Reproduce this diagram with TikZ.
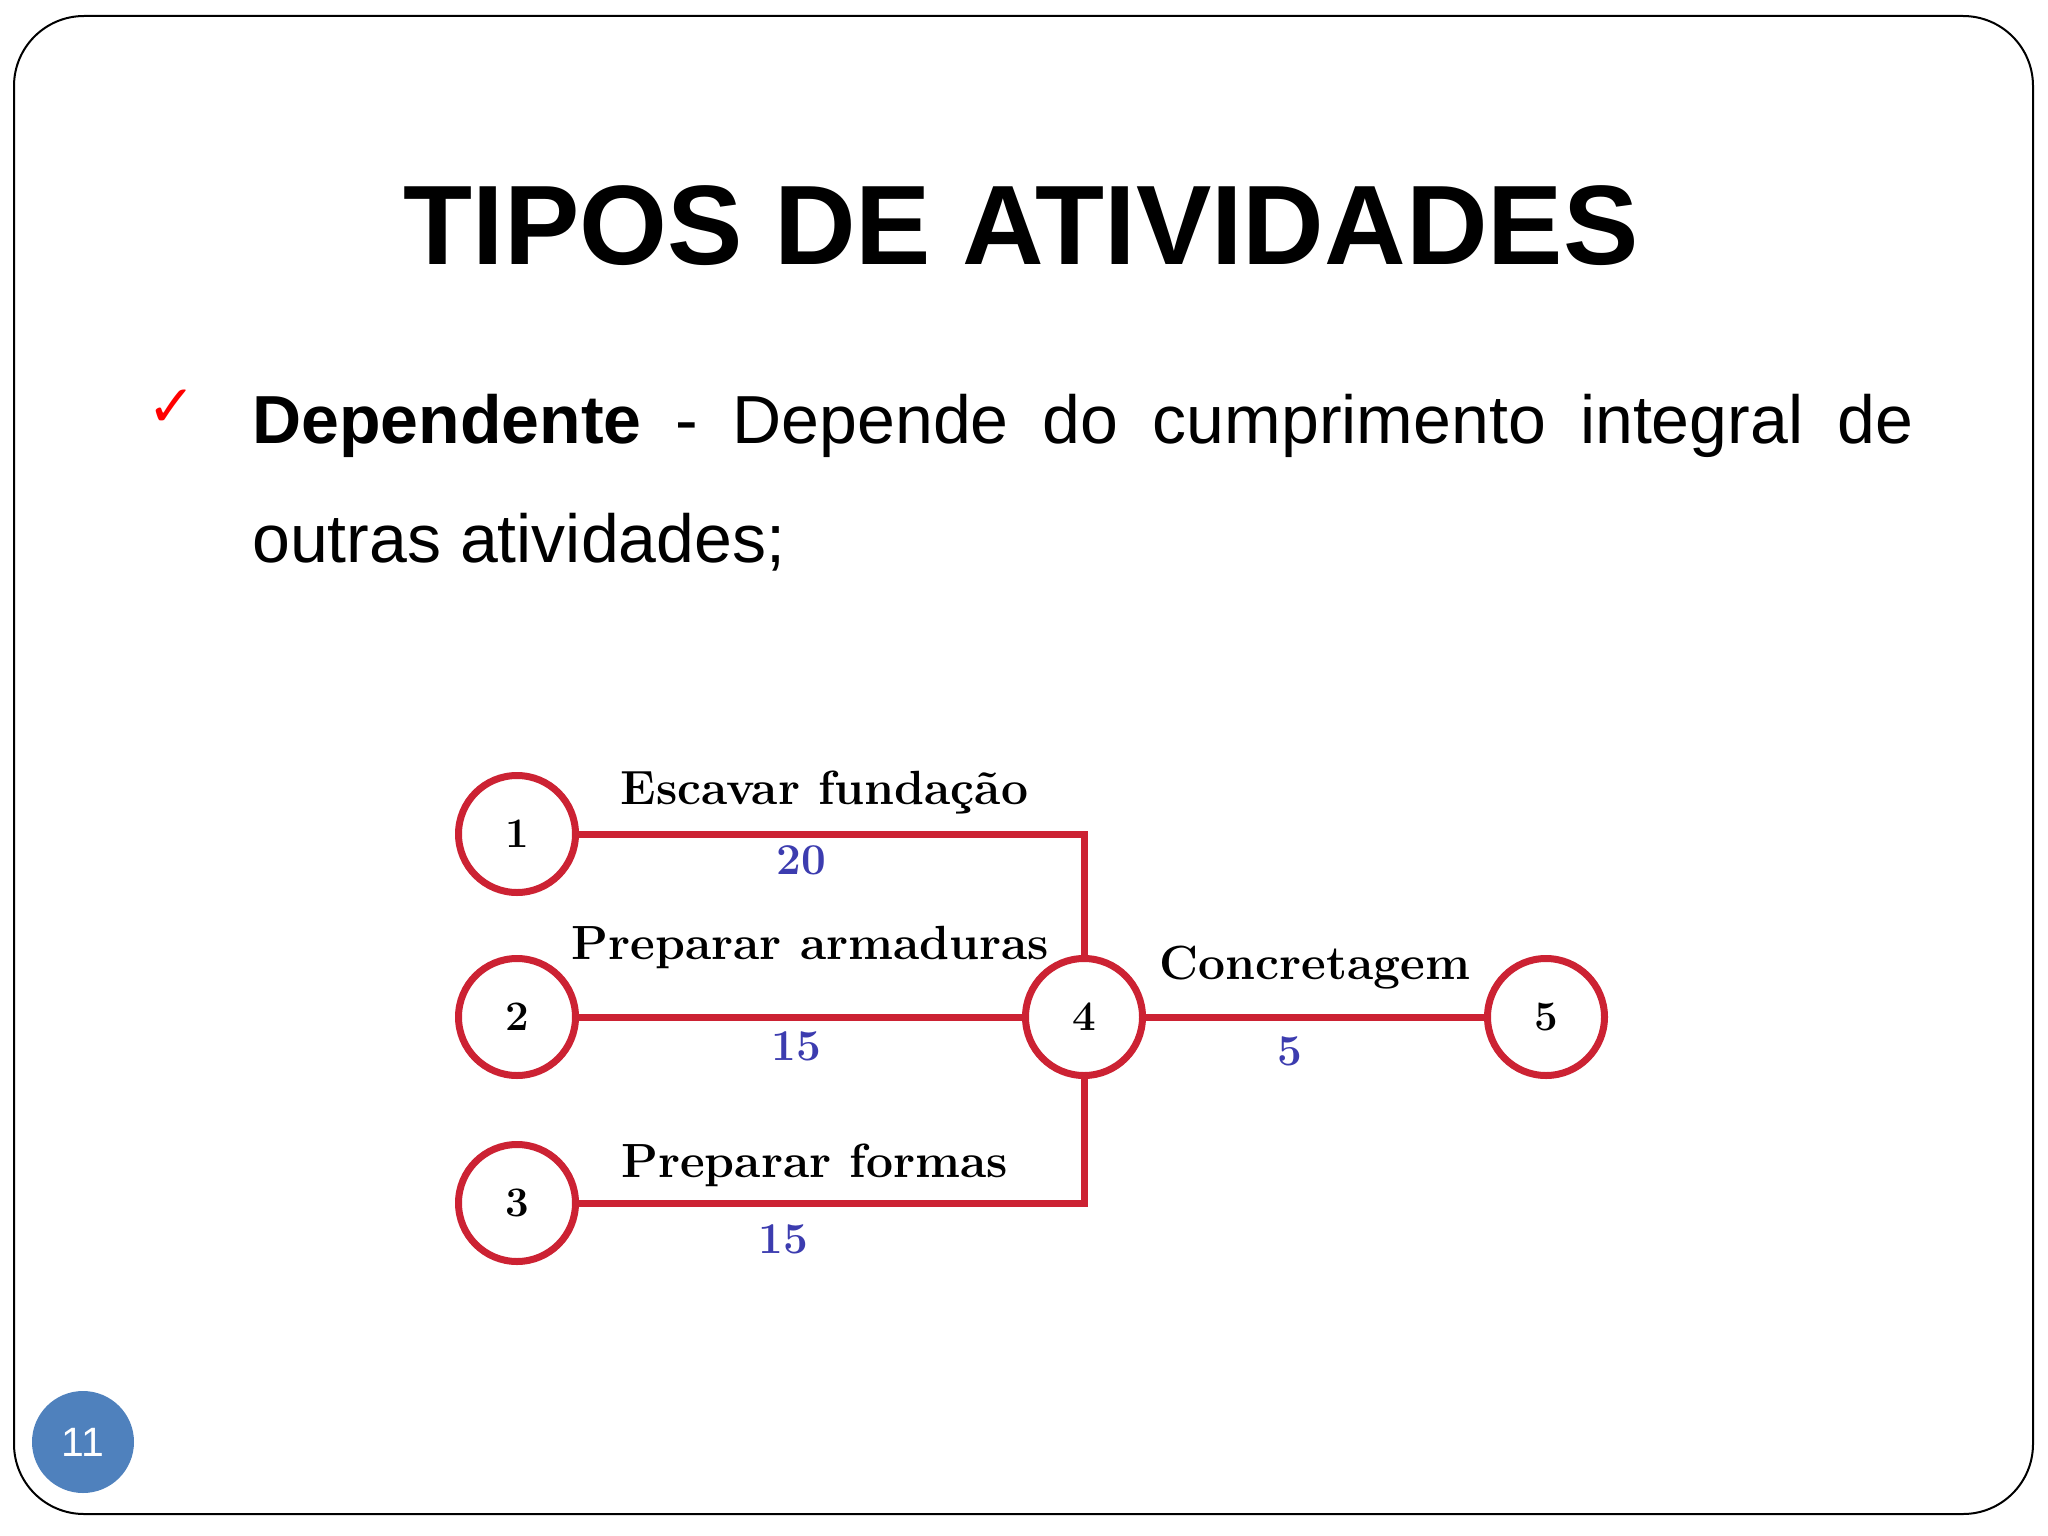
\documentclass[tikz,border=0pt]{standalone}
\usepackage{fontspec}
\usepackage{tikz}
\usetikzlibrary{automata, positioning}
\newfontfamily\arialfont{Liberation Sans}
\newfontfamily\symfont{DejaVu Sans}
\definecolor{redline}{RGB}{204,34,51}
\definecolor{bluenum}{RGB}{60,60,175}
\definecolor{pageblue}{RGB}{79,129,189}

\begin{document}
\begin{tikzpicture}[x=1pt, y=-1pt, semithick, node distance=183pt]
	\tikzstyle{every state}=[draw=redline, line width=7pt, fill=white, text=black, minimum size=117pt, inner sep=0pt, font=\fontsize{42}{42}\selectfont\bfseries]
	\tikzstyle{link}=[draw=redline, line width=7pt]
	\tikzstyle{act}=[anchor=base, font=\fontsize{48}{48}\selectfont\bfseries]
	\tikzstyle{dur}=[anchor=base, text=bluenum, font=\fontsize{44}{44}\selectfont\bfseries]
	
	\useasboundingbox (0,0) rectangle (2048,1536);
	\draw[line width=2pt, rounded corners=70pt] (14,16) rectangle (2033,1514);
	
	\node[anchor=base, font=\arialfont\bfseries\fontsize{113}{113}\selectfont] (title) at (1021,264) {TIPOS DE ATIVIDADES};
	
	\node[text=red, font=\symfont\fontsize{58}{58}\selectfont] (check) at (172,408) {✓};
	\node[anchor=base west, inner sep=0pt, font=\arialfont\fontsize{68}{68}\selectfont] (line1) at (252,443) {\makebox[1661pt][s]{\textbf{Dependente} - Depende do cumprimento integral de}};
	\node[anchor=base west, inner sep=0pt, font=\arialfont\fontsize{68}{68}\selectfont] (line2) at (252,562) {outras atividades;};
	
	\node[state] (n1) at (517,834) {1};
	\node[state] (n2) [below of=n1] {2};
	\node[state] (n3) [node distance=186pt, below of=n2] {3};
	\node[state] (n4) [node distance=567pt, right of=n2] {4};
	\node[state] (n5) [node distance=462pt, right of=n4] {5};
	
	\draw[link] (n1) -| node[act, pos=0.25, xshift=-7pt, yshift=30pt] {Escavar fundação} node[dur, pos=0.25, xshift=-30pt, yshift=-40pt] {20} (n4);
	\draw[link] (n2) -- node[act, xshift=10pt, yshift=58pt] {Preparar armaduras} node[dur, xshift=-4pt, yshift=-43pt] {15} (n4);
	\draw[link] (n3) -| node[act, pos=0.25, xshift=-17pt, yshift=26pt] {Preparar formas} node[dur, pos=0.25, xshift=-48pt, yshift=-50pt] {15} (n4);
	\draw[link] (n4) -- node[act, yshift=38pt] {Concretagem} node[dur, xshift=-25pt, yshift=-48pt] {5} (n5);
	
	\node[circle, fill=pageblue, minimum size=102pt, inner sep=0pt, text=white, font=\arialfont\fontsize{41}{41}\selectfont] (page) at (83,1442) {11};
\end{tikzpicture}
\end{document}
